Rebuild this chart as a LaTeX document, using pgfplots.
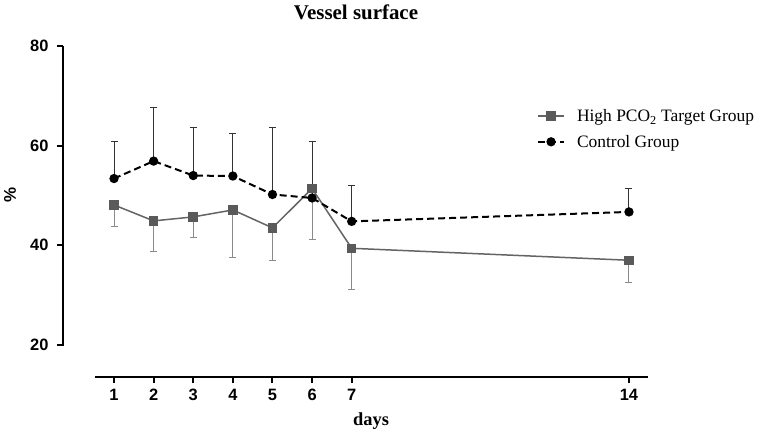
\documentclass[border=0pt]{standalone}
\usepackage{pgfplots}
\pgfplotsset{compat=1.18}
\usepackage{fontspec}
\setmainfont{Liberation Serif}
\newfontfamily\arialf{Liberation Sans}
\definecolor{sqgray}{HTML}{5A5A5A}
\definecolor{lngray}{HTML}{646464}
\definecolor{ergray}{HTML}{8A8A8A}
\definecolor{erdark}{HTML}{333333}
\begin{document}
\begin{tikzpicture}
\useasboundingbox (0,0) rectangle (758bp,433bp);
\begin{axis}[
  at={(63bp,56bp)}, anchor=south west, scale only axis,
  width=585bp, height=331bp,
  xmin=-0.288, xmax=14.48, ymin=13.57, ymax=80,
  axis x line=bottom, axis y line=left,
  x axis line style={-, line width=2bp, shorten <=32bp},
  y axis line style={-, line width=2bp, shorten <=31bp},
  tick align=outside,
  major tick length=6bp,
  tick style={line width=2bp, black},
  xtick={1,2,3,4,5,6,7,14},
  ytick={20,40,60,80},
  /pgf/number format/assume math mode=true,
  ticklabel style={font=\arialf\bfseries\fontsize{16.5}{16.5}\selectfont},
  yticklabel style={xshift=-5bp},
  xticklabel style={yshift=-3bp},
  clip=false,
  legend style={draw=none, fill=none, at={(0.81,0.812)}, anchor=north west,
    font=\fontsize{17.5}{17.5}\selectfont, row sep=10bp, inner sep=0pt,
    nodes={inner sep=1bp},
    /tikz/every odd column/.append style={column sep=11bp}},
  legend cell align=left,
  legend image code/.code={\draw[mark repeat=2,mark phase=2,#1] plot coordinates {(0bp,0bp) (13bp,0bp) (26bp,0bp)};},
]
\addplot[lngray, line width=1.5bp, mark=square*, mark size=4bp,
  mark options={fill=sqgray, draw=sqgray, solid},
  error bars/.cd, y dir=minus, y explicit,
  error bar style={line width=1bp, ergray},
  error mark options={rotate=90, mark size=3.5bp, line width=1bp, ergray}]
  table[x=x, y=y, y error minus=e] {
x y e
1 48.1 4.4
2 44.9 6.2
3 45.7 4.1
4 47.1 9.5
5 43.5 6.5
6 51.4 10.2
7 39.4 8.3
14 37.0 4.5
};
\addlegendentry{High PCO\textsubscript{2} Target Group}
\addplot[black, line width=2bp, dash pattern=on 7bp off 4bp, mark=*, mark size=3.6bp,
  mark options={solid, fill=black},
  error bars/.cd, y dir=plus, y explicit,
  error bar style={line width=1bp, erdark, solid},
  error mark options={rotate=90, mark size=3.5bp, line width=1bp, erdark, solid}]
  table[x=x, y=y, y error plus=e] {
x y e
1 53.4 7.4
2 56.9 10.8
3 54.0 9.7
4 53.9 8.6
5 50.2 13.4
6 49.5 11.3
7 44.8 7.3
14 46.7 4.6
};
\addlegendentry{Control Group}
\end{axis}
\node[font=\bfseries\fontsize{21}{21}\selectfont] at (356bp,421bp) {Vessel surface};
\node[font=\bfseries\fontsize{18.5}{18.5}\selectfont] at (371bp,12bp) {days};
\node[font=\arialf\bfseries\fontsize{17}{17}\selectfont, rotate=90] at (10bp,238bp) {\%};
\end{tikzpicture}
\end{document}
